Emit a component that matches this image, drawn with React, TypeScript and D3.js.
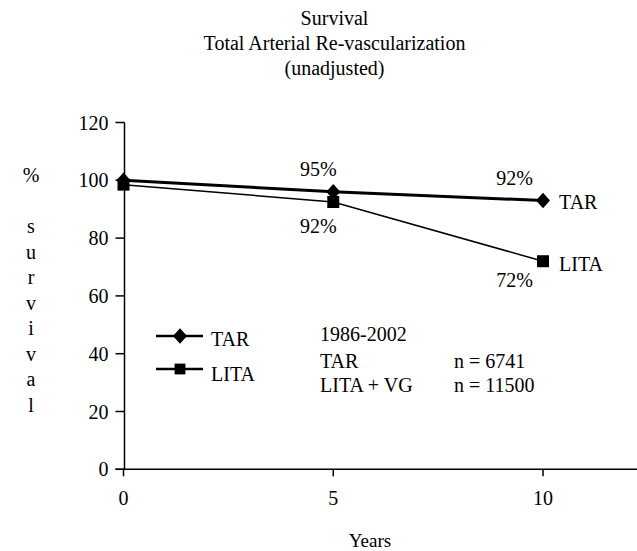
import React from "react";
import * as d3 from "d3";

const years = [0, 5, 10];
const tarValues = [100, 96, 93];
const litaValues = [98.5, 92.5, 72];
const tarLabels = ["", "95%", "92%"];
const litaLabels = ["", "92%", "72%"];
const yTicks = [0, 20, 40, 60, 80, 100, 120];
const xTicks = [0, 5, 10];
const titleLines = ["Survival", "Total Arterial Re-vascularization", "(unadjusted)"];
const yLabelChars = ["s", "u", "r", "v", "i", "v", "a", "l"];
const noteRows = [
  ["TAR", "n = 6741"],
  ["LITA + VG", "n = 11500"],
];

const FONT = '"Liberation Serif"';

const width = 637,
  height = 551,
  margin = { top: 122.5, right: 0, bottom: 81.7, left: 123.5 };

const x = d3.scaleLinear().domain([0, 12.24]).range([margin.left, width - margin.right]);
const y = d3.scaleLinear().domain([0, 120]).range([height - margin.bottom, margin.top]);

const line = d3
  .line<number>()
  .x((d, i) => x(years[i]))
  .y((d) => y(d));

const diamond = d3.symbol().type(d3.symbolDiamond2).size(125)()!;
const square = d3.symbol().type(d3.symbolSquare).size(144)()!;

// label offsets from their points
const tarOff = [null, [-15, -16], [-28.5, -16]];
const litaOff = [null, [-15, 31], [-28.5, 26]];

const T = (p: any) => <text style={{ fontFamily: FONT, fontSize: p.size || 20 }} {...p} />;

const App = () => {
  const last = years.length - 1;
  const x0 = x(0) + 1;
  const y0 = y(0);
  return (
    <svg width={width} height={height} style={{ position: "absolute", left: 0, top: 0, background: "#fff" }}>
      {titleLines.map((t, i) => (
        <T key={t} x={334.5} y={25 + i * 25} textAnchor="middle">
          {t}
        </T>
      ))}

      {/* y axis */}
      <line x1={x0} x2={x0} y1={y(120)} y2={y0} stroke="#000" strokeWidth={1.5} />
      {yTicks.map((v) => (
        <g key={v}>
          <line x1={x0 - 9} x2={x0} y1={y(v)} y2={y(v)} stroke="#000" strokeWidth={1.5} />
          <T x={x0 - 16} y={y(v) + 7} textAnchor="end">
            {v}
          </T>
        </g>
      ))}

      {/* x axis */}
      <line x1={x0 - 9} x2={width} y1={y0} y2={y0} stroke="#000" strokeWidth={1.5} />
      {xTicks.map((v) => (
        <g key={v}>
          <line x1={x(v)} x2={x(v)} y1={y0} y2={y0 + 7} stroke="#000" strokeWidth={1.5} />
          <T x={x(v)} y={y0 + 36} textAnchor="middle">
            {v}
          </T>
        </g>
      ))}

      <T x={31} y={182} textAnchor="middle">
        %
      </T>
      {yLabelChars.map((c, i) => (
        <T key={i} x={31} y={233 + i * 25.5} textAnchor="middle">
          {c}
        </T>
      ))}
      <T x={370} y={547} textAnchor="middle" size={19}>
        Years
      </T>

      <path d={line(litaValues)!} fill="none" stroke="#000" strokeWidth={1.5} />
      <path d={line(tarValues)!} fill="none" stroke="#000" strokeWidth={3} />
      {litaValues.map((v, i) => (
        <path key={"s" + i} d={square} transform={`translate(${x(years[i])},${y(v)})`} fill="#000" />
      ))}
      {tarValues.map((v, i) => (
        <path key={"d" + i} d={diamond} transform={`translate(${x(years[i])},${y(v)}) scale(1,1.12)`} fill="#000" />
      ))}

      {tarLabels.map((t, i) =>
        t ? (
          <T key={"tl" + i} x={x(years[i]) + tarOff[i]![0]} y={y(tarValues[i]) + tarOff[i]![1]} textAnchor="middle">
            {t}
          </T>
        ) : null
      )}
      {litaLabels.map((t, i) =>
        t ? (
          <T key={"ll" + i} x={x(years[i]) + litaOff[i]![0]} y={y(litaValues[i]) + litaOff[i]![1]} textAnchor="middle">
            {t}
          </T>
        ) : null
      )}

      <T x={x(years[last]) + 16} y={y(tarValues[last]) + 8}>
        TAR
      </T>
      <T x={x(years[last]) + 16} y={y(litaValues[last]) + 10}>
        LITA
      </T>

      {/* legend */}
      <line x1={156} x2={203} y1={336} y2={336} stroke="#000" strokeWidth={2.5} />
      <path d={diamond} transform="translate(180,336) scale(1,1.12)" fill="#000" />
      <T x={211} y={346}>
        TAR
      </T>
      <line x1={156} x2={203} y1={369} y2={369} stroke="#000" strokeWidth={2.5} />
      <path d={square} transform="translate(180,369) scale(0.9)" fill="#000" />
      <T x={211} y={381}>
        LITA
      </T>

      {/* note block */}
      <T x={320} y={341}>
        1986-2002
      </T>
      {noteRows.map((r, i) => (
        <g key={r[0]}>
          <T x={320} y={368 + i * 24}>
            {r[0]}
          </T>
          <T x={454} y={368 + i * 24}>
            {r[1]}
          </T>
        </g>
      ))}
    </svg>
  );
};

export default App;
